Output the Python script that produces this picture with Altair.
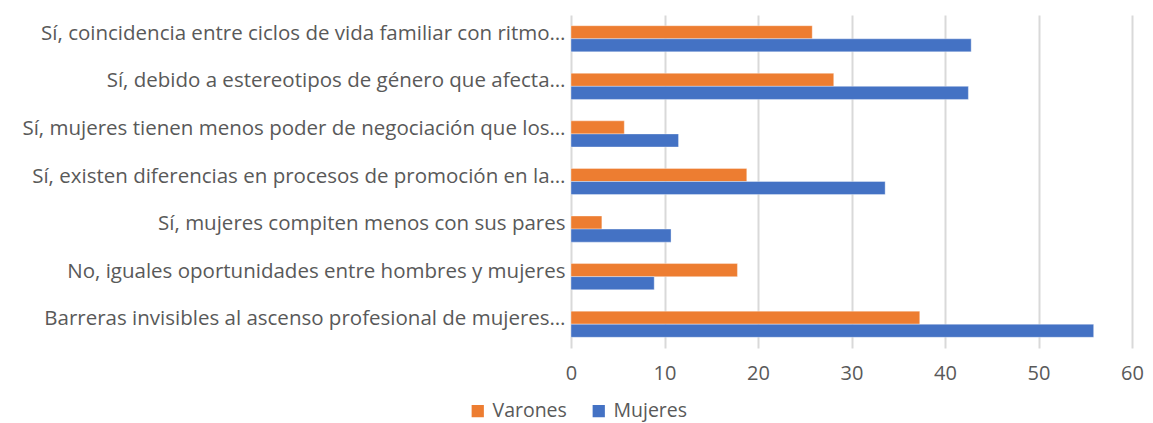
import altair as alt
import pandas as pd

categories = [
    "Sí, coincidencia entre ciclos de vida familiar con ritmo…",
    "Sí, debido a estereotipos de género que afecta…",
    "Sí, mujeres tienen menos poder de negociación que los…",
    "Sí, existen diferencias en procesos de promoción en la…",
    "Sí, mujeres compiten menos con sus pares",
    "No, iguales oportunidades entre hombres y mujeres",
    "Barreras invisibles al ascenso profesional de mujeres…",
]
varones = [25.8, 28.1, 5.7, 18.8, 3.3, 17.8, 37.3]
mujeres = [42.8, 42.5, 11.5, 33.6, 10.7, 8.9, 55.9]
series = ["Varones", "Mujeres"]
colors = ["#ED7D31", "#4472C4"]

rows = []
for c, v, m in zip(categories, varones, mujeres):
    rows.append({"cat": c, "serie": "Varones", "val": v})
    rows.append({"cat": c, "serie": "Mujeres", "val": m})
df = pd.DataFrame(rows)

font = "Open Sans"
txt = "#595959"

chart = alt.Chart(df).mark_bar(stroke="white", strokeWidth=0.6, strokeOpacity=0.6).encode(
    y=alt.Y("cat:N", sort=categories, title=None,
            scale=alt.Scale(paddingInner=0.45, paddingOuter=0.225),
            axis=alt.Axis(labelLimit=700, labelFontSize=20.5, labelColor=txt,
                          labelFont=font, ticks=False, domain=False, labelPadding=6,
                          labelBaseline="middle", labelOffset=-5)),
    yOffset=alt.YOffset("serie:N", sort=series, scale=alt.Scale(paddingInner=0, paddingOuter=0)),
    x=alt.X("val:Q", title=None,
            scale=alt.Scale(domain=[0, 60], nice=False),
            axis=alt.Axis(values=[0, 10, 20, 30, 40, 50, 60], grid=True, gridColor="#D9D9D9",
                          gridWidth=2, ticks=False, domain=False, labelFontSize=20,
                          labelColor=txt, labelFont=font, labelPadding=25,
                          labelBaseline="middle", labelFlush=False)),
    color=alt.Color("serie:N", sort=series,
                    scale=alt.Scale(domain=series, range=colors),
                    legend=alt.Legend(title=None, orient="none", direction="horizontal",
                                      legendX=-103, legendY=386, symbolType="square",
                                      symbolSize=150, labelFontSize=19.5, labelColor=txt,
                                      labelFont=font, columnPadding=22, symbolStrokeWidth=0,
                                      labelOffset=5)),
).properties(
    width=561, height=333,
    background="white",
    autosize=alt.AutoSizeParams(type="none"),
    padding={"left": 563, "top": 7, "right": 13, "bottom": 76},
).configure_view(stroke=None)

chart.save("out.html", embed_options={"renderer": "svg", "actions": False})
